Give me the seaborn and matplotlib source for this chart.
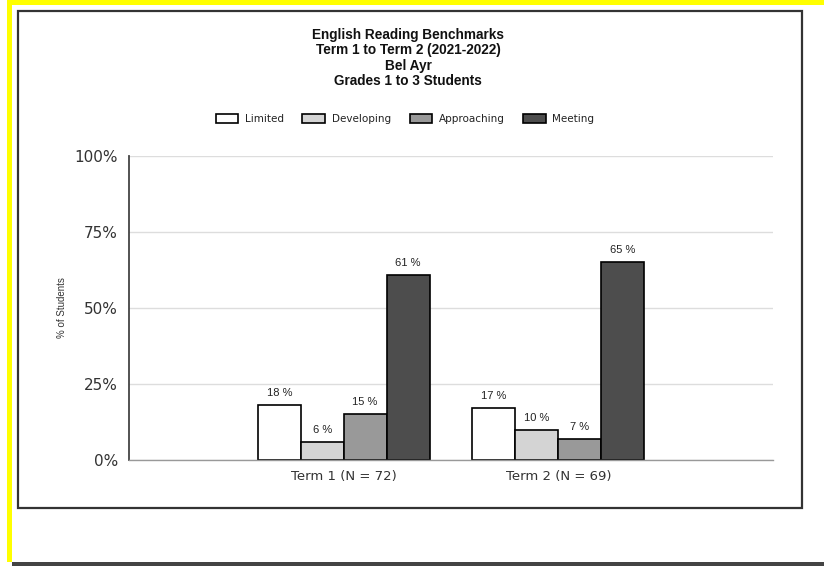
from matplotlib import pyplot as plt
from matplotlib.patches import Rectangle
import seaborn as sns
import pandas as pd

# Chart values
terms = ["Term 1 (N = 72)", "Term 2 (N = 69)"]
levels = ["Limited", "Developing", "Approaching", "Meeting"]
term1 = [18, 6, 15, 61]
term2 = [17, 10, 7, 65]
level_colors = ["#ffffff", "#d4d4d4", "#999999", "#4d4d4d"]
y_ticks = [0, 25, 50, 75, 100]
title_lines = ["English Reading Benchmarks", "Term 1 to Term 2 (2021-2022)",
               "Bel Ayr", "Grades 1 to 3 Students"]

df = pd.DataFrame({
    "Term": [terms[0]] * 4 + [terms[1]] * 4,
    "Level": levels * 2,
    "Pct": term1 + term2,
})

sns.set_style("white")
plt.rcParams["font.family"] = ["DejaVu Sans"]

W, H = 824, 566
fig = plt.figure(figsize=(W / 100, H / 100), dpi=100)
fig.patch.set_facecolor("white")


def px_rect(x0, y0, x1, y1, **kw):
    # rectangle in pixel coords (origin top-left) -> figure coords
    fig.patches.append(Rectangle((x0 / W, 1 - y1 / H), (x1 - x0) / W, (y1 - y0) / H,
                                 transform=fig.transFigure, figure=fig, **kw))


# frame decorations
px_rect(7, 0, 824, 5, facecolor="#ffff00", edgecolor="none")
px_rect(7, 0, 12, 562, facecolor="#ffff00", edgecolor="none")
px_rect(12, 562, 824, 566, facecolor="#444444", edgecolor="none")
px_rect(18, 11, 802, 508, facecolor="none", edgecolor="#333333", linewidth=1.6)

ax = fig.add_axes([129 / W, 1 - 460 / H, 644 / W, 304 / H])
sns.barplot(data=df, x="Term", y="Pct", hue="Level", hue_order=levels,
            palette=dict(zip(levels, level_colors)), edgecolor="black",
            linewidth=1.2, width=0.8, saturation=1, ax=ax)

for c in ax.containers:
    ax.bar_label(c, fmt="{:.0f} %", padding=5, fontsize=8,
                 family="Liberation Sans", color="#222222")

ax.set_xlim(-1, 2)
ax.set_ylim(0, 100)
ax.set_yticks(y_ticks)
ax.set_yticklabels([f"{t}%" for t in y_ticks], fontsize=11, color="#333333")
ax.tick_params(axis="x", labelsize=9.5, colors="#888888", length=5, width=1,
               labelcolor="#333333", pad=2)
ax.tick_params(axis="y", colors="#888888", length=6, width=1,
               labelcolor="#333333", pad=2)
ax.set_xlabel("")
ax.set_ylabel("% of Students", fontsize=7, family="Liberation Sans",
              color="#333333", labelpad=5)
ax.yaxis.grid(True, color="#dddddd", linewidth=1)
ax.set_axisbelow(True)
for s in ["top", "right"]:
    ax.spines[s].set_visible(False)
ax.spines["left"].set_color("#444444")
ax.spines["left"].set_linewidth(1.3)
ax.spines["bottom"].set_color("#999999")
ax.spines["bottom"].set_linewidth(1)

handles, labels = ax.get_legend_handles_labels()
ax.legend(handles, labels, ncol=4, frameon=False, loc="center",
          bbox_to_anchor=(405 / W, 1 - 119 / H), bbox_transform=fig.transFigure,
          prop={"family": "DejaVu Sans", "size": 7.5},
          handlelength=2.2, handleheight=0.85, handletextpad=0.6,
          columnspacing=1.8, labelcolor="#222222")

for i, line in enumerate(title_lines):
    fig.text(408 / W, 1 - (35 + 15.3 * i) / H, line, ha="center", va="center",
             fontsize=9.8, fontweight="bold", family="Liberation Sans", color="#111111")

fig.savefig("out.png", dpi=100)
